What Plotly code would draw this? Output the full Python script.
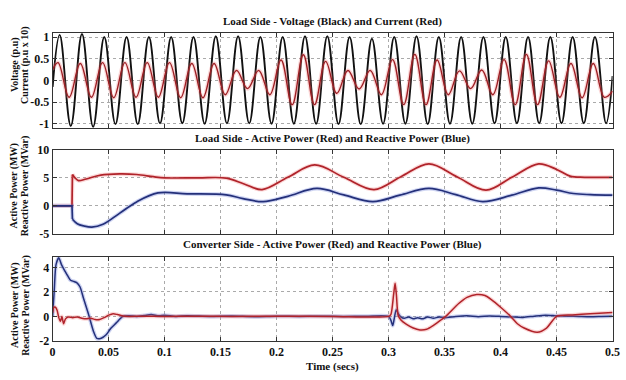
import numpy as np
import plotly.graph_objects as go

# ---------------- data ----------------
# Panel 1: per-cycle extremum values (peaks / troughs), 25 cycles in 0.5 s
V_PEAKS = [1.05, 1.07, 1.0, 1.0, 1.0, 1.0, 1.0, 1.02, 1.02, 1.0, 1.0, 1.02, 1.02,
           1.0, 0.96, 1.0, 1.02, 1.0, 1.0, 1.0, 1.0, 1.0, 1.0, 1.0, 1.0]
V_TROUGHS = [-1.05, -1.07, -1.01, -1.01, -0.99, -0.99, -1.0, -0.99, -0.99, -1.0, -1.0, -1.0,
             -1.01, -1.01, -1.0, -1.0, -1.01, -1.0, -1.0, -0.99, -0.99, -0.99, -0.99, -0.99, -0.99]
I_PEAKS = [0.41, 0.39, 0.41, 0.41, 0.41, 0.41, 0.39, 0.39, 0.23, 0.23, 0.47, 0.59, 0.44,
           0.23, 0.23, 0.48, 0.60, 0.47, 0.22, 0.24, 0.48, 0.60, 0.45, 0.39, 0.39]
I_TROUGHS = [-0.39, -0.39, -0.40, -0.39, -0.39, -0.40, -0.40, -0.33, -0.19, -0.33, -0.56, -0.56,
             -0.30, -0.20, -0.33, -0.56, -0.56, -0.33, -0.19, -0.33, -0.56, -0.56, -0.39, -0.40, -0.39]
V_START, V_END = -0.15, 0.1
I_START, I_END = 0.25, -0.25
FIRST_PEAK_T = 0.0063
LAST_TROUGH_T = 0.4942
CURRENT_LEAD = 0.0015

# Panel 2: load side active (MW) / reactive (MVar) power
LOAD_P = [(0, 0), (0.0173, 0), (0.0177, 5.6), (0.020, 5.0), (0.023, 4.5), (0.030, 4.8),
          (0.043, 5.5), (0.060, 5.7), (0.075, 5.6), (0.090, 5.2), (0.100, 5.0), (0.130, 5.0),
          (0.155, 4.95), (0.171, 3.9), (0.187, 2.9), (0.210, 5.1), (0.234, 7.3), (0.260, 5.1),
          (0.287, 2.9), (0.311, 5.2), (0.336, 7.5), (0.361, 5.2), (0.387, 2.8), (0.410, 5.1),
          (0.434, 7.5), (0.450, 6.5), (0.462, 5.3), (0.475, 5.1), (0.500, 5.1)]
LOAD_Q = [(0, 0), (0.0173, 0), (0.0177, -2.4), (0.022, -3.2), (0.028, -3.6), (0.035, -3.8),
          (0.045, -3.3), (0.060, -1.3), (0.075, 0.7), (0.094, 2.3), (0.120, 2.15), (0.155, 1.95),
          (0.170, 1.3), (0.188, 0.75), (0.210, 1.7), (0.236, 3.1), (0.260, 1.95), (0.286, 0.75),
          (0.310, 1.9), (0.336, 3.1), (0.360, 2.0), (0.384, 0.75), (0.410, 1.9), (0.434, 3.2),
          (0.450, 2.8), (0.465, 2.2), (0.480, 2.0), (0.500, 1.9)]
STEP_INDEX = 2  # index of the first point after the switching step in LOAD_P / LOAD_Q

# Panel 3: converter side active (MW) / reactive (MVar) power
CONV_P = [(0, 0.3), (0.001, 0.72), (0.0025, 0.75), (0.004, 0.5), (0.0055, -0.1), (0.007, -0.4),
          (0.0083, 0.0), (0.0098, -0.6), (0.0115, -0.2), (0.014, -0.05), (0.018, -0.1),
          (0.022, -0.05), (0.026, -0.15), (0.030, -0.2), (0.034, -0.15), (0.038, -0.25),
          (0.042, -0.25), (0.046, -0.1), (0.050, 0.1), (0.054, 0.22), (0.058, 0.15),
          (0.062, 0.05), (0.068, 0.0), (0.080, 0.02), (0.100, 0.0), (0.130, 0.02), (0.160, 0.0),
          (0.200, 0.01), (0.250, 0.0), (0.300, 0.0), (0.302, 0.15), (0.3045, 1.8), (0.3058, 2.7),
          (0.307, 1.7), (0.3085, 0.1), (0.311, -0.3), (0.316, -0.65), (0.322, -0.95),
          (0.328, -1.1), (0.334, -1.05), (0.339, -0.8), (0.3465, -0.3), (0.351, 0.0),
          (0.3626, 1.05), (0.370, 1.55), (0.3787, 1.78), (0.386, 1.7), (0.392, 1.35),
          (0.400, 0.75), (0.409, 0.0), (0.415, -0.6), (0.421, -0.95), (0.4327, -1.3),
          (0.441, -0.95), (0.450, 0.0), (0.464, 0.12), (0.480, 0.22), (0.500, 0.32)]
CONV_Q = [(0, 0), (0.0015, 2.2), (0.003, 4.2), (0.0055, 4.78), (0.008, 4.2), (0.011, 3.7),
          (0.0135, 3.3), (0.016, 2.95), (0.019, 2.85), (0.0215, 2.75), (0.0245, 2.4),
          (0.0275, 1.5), (0.032, 0.2), (0.0366, -1.25), (0.0395, -1.8), (0.0434, -1.78),
          (0.0478, -1.5), (0.052, -0.97), (0.0566, -0.55), (0.0625, -0.02), (0.068, 0.05),
          (0.075, 0.0), (0.082, 0.08), (0.088, 0.15), (0.095, 0.05), (0.100, 0.1), (0.110, 0.0),
          (0.120, 0.05), (0.140, 0.0), (0.160, 0.03), (0.180, -0.02), (0.200, 0.02), (0.220, 0.0),
          (0.240, 0.02), (0.260, 0.0), (0.280, 0.01), (0.300, 0.0), (0.302, -0.3),
          (0.3037, -0.75), (0.305, -0.2), (0.3068, 0.55), (0.3085, 0.25), (0.311, -0.05),
          (0.314, -0.15), (0.318, -0.05), (0.322, -0.2), (0.326, -0.1), (0.330, -0.2),
          (0.335, -0.05), (0.340, -0.15), (0.345, -0.05), (0.350, -0.1), (0.360, 0.0),
          (0.370, 0.05), (0.380, -0.02), (0.390, 0.03), (0.400, 0.0), (0.410, -0.05),
          (0.420, -0.08), (0.430, 0.02), (0.440, 0.1), (0.450, 0.05), (0.460, 0.02),
          (0.470, 0.0), (0.480, -0.02), (0.490, 0.0), (0.500, 0.02)]

TITLES = ["Load Side - Voltage (Black) and Current (Red)",
          "Load Side - Active Power (Red) and Reactive Power (Blue)",
          "Converter Side - Active Power (Red) and Reactive Power (Blue)"]
YTITLES = [("Voltage (p.u)", "Current (p.u x 10)"),
           ("Active Power (MW)", "Reactive Power (MVar)"),
           ("Active Power (MW)", "Reactive Power (MVar)")]
Y_TICKS = [[-1, -0.5, 0, 0.5, 1], [-5, 0, 5, 10], [-2, 0, 2, 4]]
Y_TICKTEXT = [["-1", "-0.5", "0", "0.5", "1"], ["-5", "0", "5", "10"], ["-2", "0", "2", "4"]]
Y_RANGES = [[-1.1, 1.1], [-5, 10], [-2, 4.85]]
X_TICKS = [0, 0.05, 0.1, 0.15, 0.2, 0.25, 0.3, 0.35, 0.4, 0.45, 0.5]
X_TICKTEXT = ["0", "0.05", "0.1", "0.15", "0.2", "0.25", "0.3", "0.35", "0.4", "0.45", "0.5"]
X_TITLE = "Time (secs)"

# ---------------- build ----------------
W, H = 626, 380
FONT = "Liberation Serif, Times New Roman, serif"
x_dom = [50.5 / W, 620.5 / W]
y_px = [(26.7, 125.7), (148.3, 235.5), (259.5, 346.7)]
y_doms = [[1 - b / H, 1 - t / H] for t, b in y_px]


def interleave(peaks, troughs):
    out = []
    for p, q in zip(peaks, troughs):
        out += [p, q]
    return out


ext_t = np.linspace(FIRST_PEAK_T, LAST_TROUGH_T, 2 * len(V_PEAKS))
v_t = [0.0] + list(ext_t) + [0.5]
v_y = [V_START] + interleave(V_PEAKS, V_TROUGHS) + [V_END]
i_t = [0.0] + list(ext_t - CURRENT_LEAD) + [0.5]
i_y = [I_START] + interleave(I_PEAKS, I_TROUGHS) + [I_END]

fig = go.Figure()


def add_line(x, y, k, color, width, halo=None, halo_w=0, smooth=1.0, shape="spline"):
    xa = "x" if k == 1 else f"x{k}"
    ya = "y" if k == 1 else f"y{k}"
    ln = dict(shape=shape)
    if shape == "spline":
        ln["smoothing"] = smooth
    if halo:
        fig.add_trace(go.Scatter(x=x, y=y, xaxis=xa, yaxis=ya, mode="lines",
                                 line=dict(ln, color=halo, width=halo_w),
                                 hoverinfo="skip", showlegend=False))
    fig.add_trace(go.Scatter(x=x, y=y, xaxis=xa, yaxis=ya, mode="lines",
                             line=dict(ln, color=color, width=width),
                             showlegend=False))


RED = "#b0232a"
RED_HALO = "rgba(240,110,110,0.28)"
BLUE = "#24307a"
BLUE_HALO = "rgba(80,100,210,0.28)"

add_line(v_t, v_y, 1, "#111111", 1.9, smooth=1.1)
add_line(i_t, i_y, 1, "#9e1f24", 1.4, RED_HALO, 4, smooth=1.1)

for series, col, halo in ((LOAD_P, RED, RED_HALO), (LOAD_Q, BLUE, BLUE_HALO)):
    xs = [p[0] for p in series]
    ys = [p[1] for p in series]
    add_line(xs[:STEP_INDEX + 1], ys[:STEP_INDEX + 1], 2, col, 1.7, halo, 4, shape="linear")
    add_line(xs[STEP_INDEX:], ys[STEP_INDEX:], 2, col, 1.7, halo, 4)

add_line([p[0] for p in CONV_Q], [p[1] for p in CONV_Q], 3, BLUE, 1.5, BLUE_HALO, 4, smooth=0.7)
add_line([p[0] for p in CONV_P], [p[1] for p in CONV_P], 3, RED, 1.5, RED_HALO, 4, smooth=0.7)

tickfont = dict(family=FONT, size=12, color="#111111", weight="bold")
axis_common = dict(showline=True, linecolor="#333333", linewidth=1, mirror="ticks",
                   ticks="inside", ticklen=4, tickcolor="#333333",
                   showgrid=True, gridcolor="#aaaaaa", griddash="dot", gridwidth=1,
                   zeroline=False, tickfont=tickfont, ticklabeloverflow="allow")

layout = dict(width=W, height=H, margin=dict(l=0, r=0, t=0, b=0),
              paper_bgcolor="white", plot_bgcolor="white", showlegend=False)
for k in range(1, 4):
    xs = "xaxis" if k == 1 else f"xaxis{k}"
    ys = "yaxis" if k == 1 else f"yaxis{k}"
    layout[xs] = dict(axis_common, domain=x_dom, range=[0, 0.5], tickvals=X_TICKS,
                      ticktext=X_TICKTEXT, showticklabels=(k == 3),
                      anchor="y" if k == 1 else f"y{k}")
    layout[ys] = dict(axis_common, domain=y_doms[k - 1], range=Y_RANGES[k - 1],
                      tickvals=Y_TICKS[k - 1], ticktext=Y_TICKTEXT[k - 1],
                      anchor="x" if k == 1 else f"x{k}")
fig.update_layout(**layout)

ann_font = dict(family=FONT, size=11, color="#111111", weight="bold")
xc = (x_dom[0] + x_dom[1]) / 2
title_py = [15, 137, 247]
ytitle_py = [60, 186, 310]
for k in range(3):
    fig.add_annotation(text=TITLES[k], x=xc, y=1 - title_py[k] / H, xref="paper", yref="paper",
                       showarrow=False, font=ann_font, xanchor="center", yanchor="middle")
    a, b = YTITLES[k]
    fig.add_annotation(text=a, x=11.5 / W, y=1 - ytitle_py[k] / H, xref="paper", yref="paper",
                       showarrow=False, textangle=-90, font=dict(ann_font, size=10),
                       xanchor="center", yanchor="middle")
    fig.add_annotation(text=b, x=22.5 / W, y=1 - ytitle_py[k] / H, xref="paper", yref="paper",
                       showarrow=False, textangle=-90, font=dict(ann_font, size=10),
                       xanchor="center", yanchor="middle")
fig.add_annotation(text=X_TITLE, x=xc, y=1 - 373 / H, xref="paper", yref="paper",
                   showarrow=False, font=ann_font, xanchor="center", yanchor="middle")

fig.write_html("out.html")
